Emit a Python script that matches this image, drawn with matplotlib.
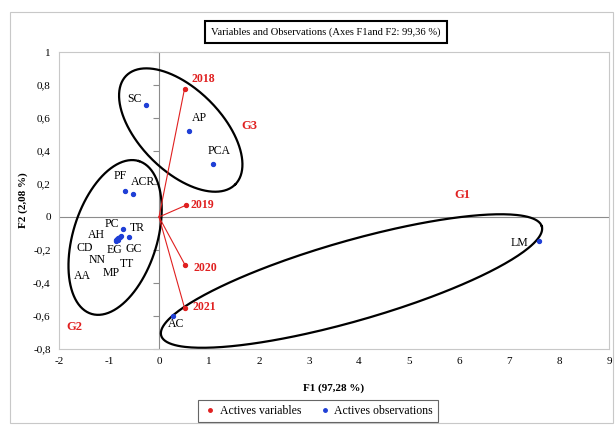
import numpy as np
import matplotlib
matplotlib.use('Agg')
import matplotlib.pyplot as plt
from matplotlib.lines import Line2D
from matplotlib.patches import Rectangle

plt.rcParams['font.family'] = ['Liberation Serif', 'DejaVu Serif']
plt.rcParams['font.size'] = 8

# observations (F1, F2)
obs_names = ['SC', 'AP', 'PCA', 'PF', 'ACR', 'PC', 'TR', 'AH', 'CD', 'NN',
             'AA', 'EG', 'MP', 'TT', 'GC', 'AC', 'LM']
obs_f1 = [-0.27, 0.59, 1.08, -0.68, -0.53, -0.73, -0.60, -0.85, -0.86, -0.84,
          -0.87, -0.83, -0.82, -0.78, -0.77, 0.27, 7.60]
obs_f2 = [0.68, 0.52, 0.32, 0.16, 0.14, -0.07, -0.12, -0.135, -0.14, -0.14,
          -0.145, -0.13, -0.14, -0.12, -0.115, -0.60, -0.145]

# variables (years)
var_names = ['2018', '2019', '2020', '2021']
var_f1 = [0.51, 0.53, 0.52, 0.51]
var_f2 = [0.776, 0.07, -0.29, -0.55]

# groups: center (data), half axes (px), angle (deg)
group_names = ['G1', 'G2', 'G3']
group_cx = [3.85, -0.878, 0.435]
group_cy = [-0.388, -0.124, 0.527]
group_a = [198, 80, 77]
group_b = [40, 42, 41]
group_ang = [16, 72.7, -45]
group_lab_x = [6.07, -1.70, 1.80]
group_lab_y = [0.133, -0.665, 0.55]

yticks = [-0.8, -0.6, -0.4, -0.2, 0, 0.2, 0.4, 0.6, 0.8, 1]
xticks = list(range(-2, 10))

# label offsets in pixels (layout only)
obs_off = {'SC': (-11, 6), 'AP': (11, 13), 'PCA': (6, 13), 'PF': (-5, 15),
           'ACR': (11, 12), 'PC': (-11, 5), 'TR': (8, 9), 'AH': (-20, 4),
           'CD': (-31, -8), 'NN': (-20, -20), 'AA': (-33, -35), 'EG': (-3, -12),
           'MP': (-7, -33), 'TT': (7, -27), 'GC': (13, -13), 'AC': (4, -8),
           'LM': (-20, -2)}
var_off = {'2018': (19, 10), '2019': (17, 0), '2020': (20, -3), '2021': (20, 1)}

red = '#E02020'
blue = '#1F3FD6'

fig = plt.figure(figsize=(6.16, 4.25), dpi=100)
ax = fig.add_axes([59 / 616, 1 - 349 / 425, 550 / 616, 297 / 425])
ax.set_xlim(-2, 9)
ax.set_ylim(-0.8, 1)
ax.set_xticks(xticks)
ax.set_yticks(yticks)
ax.set_xticklabels([str(v) for v in xticks])
ax.set_yticklabels([('%g' % v).replace('.', ',') for v in yticks])
ax.tick_params(length=0, pad=6, labelsize=8)
for s in ax.spines.values():
    s.set_color('#C8C8C8')
    s.set_linewidth(0.8)

ax.axhline(0, color='#8C8C8C', lw=0.8, zorder=1)
ax.axvline(0, color='#8C8C8C', lw=0.8, zorder=1)
sec = ax.secondary_yaxis(2 / 11)
sec.set_yticks(yticks)
sec.tick_params(length=4, color='#8C8C8C', labelleft=False, direction='out')
sec.spines['left'].set_visible(False)

ax.set_xlabel('F1 (97,28 %)', fontweight='bold', fontsize=8)
ax.set_ylabel('F2 (2,08 %)', fontweight='bold', fontsize=8)
ax.xaxis.set_label_coords(0.5, -0.115)
ax.yaxis.set_label_coords(-0.056, 0.5)

# ellipses
sx = 550 / 11
sy = 297 / 1.8
t = np.linspace(0, 2 * np.pi, 300)
for cx, cy, a, b, ang in zip(group_cx, group_cy, group_a, group_b, group_ang):
    th = np.radians(ang)
    px = a * np.cos(t) * np.cos(th) - b * np.sin(t) * np.sin(th)
    py = a * np.cos(t) * np.sin(th) + b * np.sin(t) * np.cos(th)
    ax.plot(cx + px / sx, cy + py / sy, color='black', lw=1.6, zorder=2)

for name, gx, gy in zip(group_names, group_lab_x, group_lab_y):
    ax.text(gx, gy, name, color=red, fontweight='bold', fontsize=9,
            ha='center', va='center')

# variables
for name, x, y in zip(var_names, var_f1, var_f2):
    ax.plot([0, x], [0, y], color=red, lw=0.8, zorder=3)
    dx, dy = var_off[name]
    ax.annotate(name, (x, y), xytext=(dx, dy), textcoords='offset pixels',
                color=red, fontweight='bold', fontsize=8.5, ha='center', va='center')
ax.scatter(var_f1, var_f2, s=8, color=red, zorder=4)

# observations
ax.scatter(obs_f1, obs_f2, s=8, color=blue, zorder=4)
for name, x, y in zip(obs_names, obs_f1, obs_f2):
    dx, dy = obs_off[name]
    ax.annotate(name, (x, y), xytext=(dx, dy), textcoords='offset pixels',
                fontsize=8.5, ha='center', va='center')

fig.text(326 / 616, 1 - 32 / 425, 'Variables and Observations (Axes F1and F2: 99,36 %)',
         ha='center', va='center', fontsize=7.6,
         bbox=dict(boxstyle='square,pad=0.6', fc='white', ec='black', lw=1.5))

handles = [Line2D([], [], marker='o', ls='', color=red, markersize=2.5),
           Line2D([], [], marker='o', ls='', color=blue, markersize=2.5)]
leg = fig.legend(handles, ['Actives variables', 'Actives observations'], ncol=2,
                 loc='center', bbox_to_anchor=(318 / 616, 1 - 411 / 425),
                 frameon=True, fancybox=False, fontsize=8.5, handletextpad=0.2,
                 columnspacing=1.4, handlelength=1.2, borderpad=0.45)
leg.get_frame().set_edgecolor('#404040')
leg.get_frame().set_linewidth(0.8)

fig.patches.append(Rectangle((10 / 616, 2 / 425), 603 / 616, 411 / 425,
                             transform=fig.transFigure, fill=False,
                             ec='#C8C8C8', lw=0.8))

fig.savefig('out.png', dpi=100)
